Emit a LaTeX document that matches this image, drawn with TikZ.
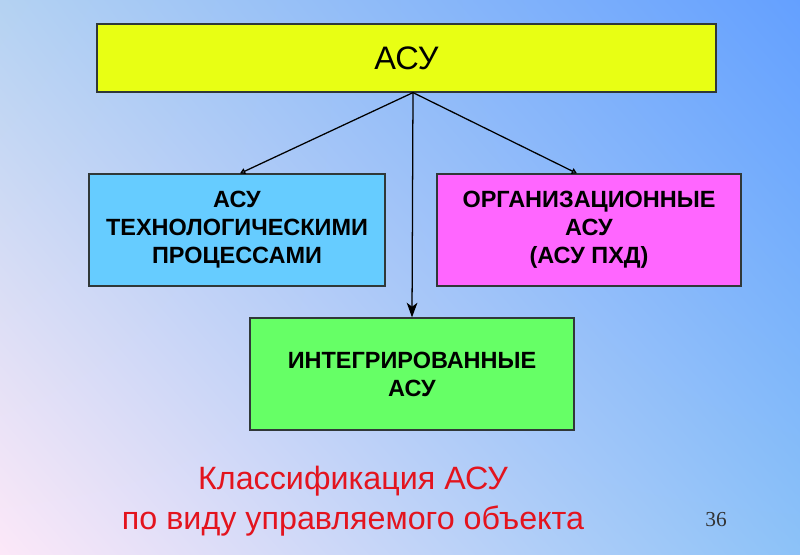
\documentclass[tikz,border=0pt]{standalone}
\usepackage{fontspec}
\setmainfont{Liberation Sans}
\newfontfamily\slidenum{Liberation Serif}
\usetikzlibrary{arrows.meta,calc,shadings}
\definecolor{bgTopLeft}{HTML}{B4D2F2}
\definecolor{bgTopRight}{HTML}{64A0FF}
\definecolor{bgLowLeft}{HTML}{FCE8F8}
\definecolor{bgLowRight}{HTML}{8CC2F8}
\definecolor{rootBg}{HTML}{E8FF14}
\definecolor{techBg}{HTML}{66CCFF}
\definecolor{orgBg}{HTML}{FF66FF}
\definecolor{intBg}{HTML}{66FF66}
\definecolor{edge}{HTML}{303838}
\definecolor{capRed}{HTML}{E3141E}

\begin{document}
\begin{tikzpicture}[x=0.75pt,y=-0.75pt,
  box/.style={draw=edge,line width=0.9pt,align=center,inner sep=0pt,
    minimum height=84pt,font=\bfseries\fontsize{17.6}{21}\selectfont},
  link/.style={line width=0.95pt,-{Triangle[open,length=4pt,width=4.5pt]}},
  down/.style={line width=0.95pt,-{Stealth[length=11pt,width=8pt,inset=3pt]}}]
  \useasboundingbox (0,0) rectangle (800,554);
  \shade[upper left=bgTopLeft,upper right=bgTopRight,
    lower left=bgLowLeft,lower right=bgLowRight] (0,0) rectangle (800,554);

  \node[box,fill=rootBg,minimum width=464.25pt,minimum height=51pt,
    font=\fontsize{24.4}{28}\selectfont] (root) at (406.5,58) {АСУ};
  \node[box,fill=techBg,minimum width=222pt] (tech) at (237,230)
    {АСУ\\ТЕХНОЛОГИЧЕСКИМИ\\ПРОЦЕССАМИ};
  \node[box,fill=orgBg,minimum width=228pt] (org) at (589,230)
    {ОРГАНИЗАЦИОННЫЕ\\АСУ\\(АСУ ПХД)};
  \node[box,fill=intBg,minimum width=243pt] (integ) at (412,374)
    {ИНТЕГРИРОВАННЫЕ\\АСУ};

  \coordinate (fork) at ($(root.south)+(6.5,0)$);
  \draw[link] (fork) -- ($(tech.north)+(3,0)$);
  \draw[link] (fork) -- ($(org.north)+(-12,0)$);
  \draw[down] (fork) -- (integ.north);

  \node[align=center,text=capRed,font=\fontsize{24.2}{29.5}\selectfont] (caption)
    at (353,501) {Классификация АСУ\\по виду управляемого объекта};
  \node[font=\slidenum\fontsize{16}{18}\selectfont,text=black!80] (pagenum)
    at (716,520) {36};
\end{tikzpicture}
\end{document}
